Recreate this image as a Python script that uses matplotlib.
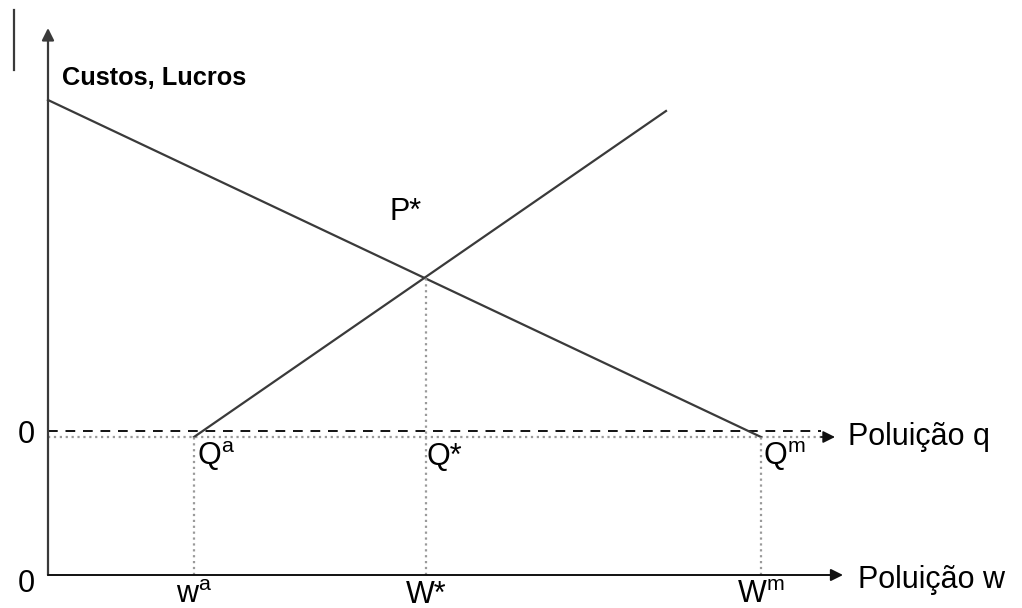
import matplotlib.pyplot as plt

plt.rcParams['font.family'] = ['Liberation Sans', 'DejaVu Sans']
plt.rcParams['mathtext.fontset'] = 'custom'
plt.rcParams['mathtext.rm'] = 'Liberation Sans'
plt.rcParams['mathtext.it'] = 'Liberation Sans'

# diagram values (origin at the bottom-left corner of the axes)
w_a, w_star, w_m = 146, 378, 713       # pollution w levels
q_level = 138                         # level of the "Poluição q" axis
dash_level = 144                      # dashed zero-profit line
demand_x = [0, 713]
demand_y = [475, 138]
supply_x = [146, 618]
supply_y = [138, 464]
p_star = 298                          # height of the intersection
y_top = 547
x_end = 795
q_end = 787

line_col = '#3a3a3a'
dot_col = '#9a9a9a'

fig = plt.figure(figsize=(10.22, 6.08), dpi=100)
ax = fig.add_axes([0, 0, 1, 1])
ax.set_xlim(-48, 1022 - 48)
ax.set_ylim(575 - 608, 575)
ax.axis('off')

# axes with arrows
ax.annotate('', xy=(0, y_top), xytext=(0, 0),
            arrowprops=dict(arrowstyle='-|>', color=line_col, lw=1.6,
                            mutation_scale=18, shrinkA=0, shrinkB=0))
ax.annotate('', xy=(x_end, 0), xytext=(0, 0),
            arrowprops=dict(arrowstyle='-|>', color='#111111', lw=1.4,
                            mutation_scale=18, shrinkA=0, shrinkB=0))
ax.plot([0, q_end - 10], [q_level, q_level], ls=':', color=dot_col, lw=1.6)
ax.annotate('', xy=(q_end, q_level), xytext=(q_end - 14, q_level),
            arrowprops=dict(arrowstyle='-|>', color='#111111', lw=1.2,
                            mutation_scale=18, shrinkA=0, shrinkB=0))
ax.plot([0, q_end - 14], [dash_level, dash_level], ls=(0, (5, 4)),
        color='#111111', lw=1.4)

# stray mark at the top left
ax.plot([-34, -34], [505, 565], color=line_col, lw=1.6)

# curves
ax.plot(demand_x, demand_y, color=line_col, lw=1.6)
ax.plot(supply_x, supply_y, color=line_col, lw=1.6)

# guide lines
for wx, top in [(w_a, q_level), (w_star, p_star), (w_m, q_level)]:
    ax.plot([wx, wx], [0, top], ls=':', color=dot_col, lw=1.6)

fs = 22
ax.text(14, 497, 'Custos, Lucros', fontsize=18.3, fontweight='bold',
        va='center', ha='left')
ax.text(342, 355, 'P*', fontsize=fs, va='baseline', ha='left')
ax.text(-22, 132, '0', fontsize=fs, va='baseline', ha='center')
ax.text(-22, -17, '0', fontsize=fs, va='baseline', ha='center')
ax.text(w_a + 3, 110, r'Q$^a$', fontsize=fs, va='baseline', ha='left')
ax.text(w_star + 1, 110, 'Q*', fontsize=fs, va='baseline', ha='left')
ax.text(w_m + 2, 110, r'Q$^m$', fontsize=fs, va='baseline', ha='left')
ax.text(w_a, -28, r'w$^a$', fontsize=fs, va='baseline', ha='center')
ax.text(w_star, -28, 'W*', fontsize=fs, va='baseline', ha='center')
ax.text(w_m, -28, r'W$^m$', fontsize=fs, va='baseline', ha='center')
ax.text(800, 130, 'Poluição q', fontsize=fs, va='baseline', ha='left')
ax.text(810, -13, 'Poluição w', fontsize=fs, va='baseline', ha='left')

fig.savefig('out.png', dpi=100)
